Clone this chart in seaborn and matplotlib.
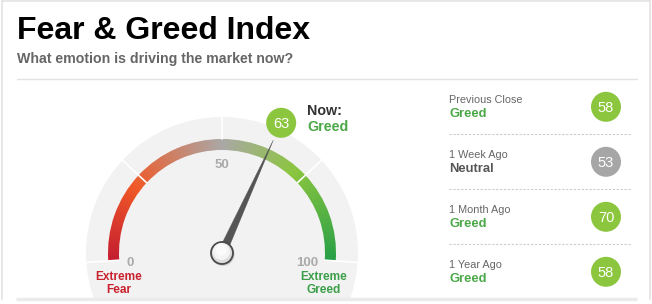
import numpy as np
import matplotlib
matplotlib.use("Agg")
import matplotlib.pyplot as plt
from matplotlib.patches import Wedge, Circle, Polygon
from matplotlib.colors import LinearSegmentedColormap
import seaborn as sns
import pandas as pd

# ---------------- data ----------------
title = "Fear & Greed Index"
subtitle = "What emotion is driving the market now?"
current_value = 63
current_rating = "Greed"
scale_ticks = [0, 50, 100]
zone_bounds = [0, 25, 50, 75, 100]
extreme_left = ["Extreme", "Fear"]
extreme_right = ["Extreme", "Greed"]
history_labels = ["Previous Close", "1 Week Ago", "1 Month Ago", "1 Year Ago"]
history_values = [58, 53, 70, 58]
history_ratings = ["Greed", "Neutral", "Greed", "Greed"]

# ---------------- style ----------------
W, H = 652, 304
sns.set_theme(style="white")
plt.rcParams['font.family'] = ['Liberation Sans', 'DejaVu Sans']

GREEN_BADGE = "#8cc63f"
GRAY_BADGE = "#a6a6a6"
GREEN_TXT = "#4da849"
RED_TXT = "#c9222f"
rating_color = {"Greed": GREEN_TXT, "Neutral": "#555555", "Fear": "#e0502a"}
badge_color = {"Greed": GREEN_BADGE, "Neutral": GRAY_BADGE, "Fear": "#f05a28"}

fig = plt.figure(figsize=(W / 100, H / 100), dpi=100)
ax = fig.add_axes([0, 0, 1, 1])
ax.set_xlim(0, W)
ax.set_ylim(H, 0)
ax.axis("off")

# frame
ax.plot([2, 2], [0, H], color="#e3e3e3", lw=1.2, zorder=1)
ax.plot([2, 650], [1, 1], color="#e3e3e3", lw=1.2, zorder=1)
ax.plot([650, 650], [0, H], color="#e3e3e3", lw=1.2, zorder=1)

# title
ax.text(17, 39, title, fontsize=23, fontweight="bold", color="#000000", va="baseline", ha="left")
ax.text(17, 63.5, subtitle, fontsize=10.2, fontweight="bold", color="#666666", va="baseline", ha="left")
ax.plot([17, 637], [79, 79], color="#e2e2e2", lw=1, zorder=1)

# ---------------- gauge ----------------
cx, cy = 222, 253
R_BG = 136
R_OUT, ARC_W = 114, 11


def ang(v):
    return 184.0 - v * 1.88


def pol(r, v):
    a = np.deg2rad(ang(v))
    return cx + r * np.cos(a), cy - r * np.sin(a)


bg = Circle((cx, cy), R_BG, facecolor="#f2f2f2", edgecolor="none", zorder=2)
ax.add_patch(bg)
ax.fill_between([0, W], 299.5, H, color="white", zorder=3)
ax.plot([16, 637], [299, 299], color="#ebebeb", lw=2.5, zorder=4, solid_capstyle="butt")

cmap = LinearSegmentedColormap.from_list(
    "fg",
    [(0.0, "#c41e30"), (0.22, "#f05a28"), (0.50, "#aaa8a6"), (0.72, "#8cc63f"), (1.0, "#28a048")],
)
# angular gradient image clipped to the arc
x0, x1 = cx - R_OUT - 2, cx + R_OUT + 2
y0, y1 = cy - R_OUT - 2, cy + 16
xs = np.linspace(x0, x1, 600)
ys = np.linspace(y0, y1, 400)
XX, YY = np.meshgrid(xs, ys)
phi = np.degrees(np.arctan2(cy - YY, XX - cx))
phi = np.where(phi < -90, phi + 360, phi)
vv = np.clip((184.0 - phi) / 1.88, 0, 100) / 100.0
img = cmap(vv)
im = ax.imshow(img, extent=(x0, x1, y1, y0), origin="upper", interpolation="bilinear", zorder=5)
arc = Wedge((cx, cy), R_OUT, -ang(0), -ang(100), width=ARC_W,
            facecolor="none", edgecolor="none", transform=ax.transData)
ax.add_patch(arc)
im.set_clip_path(arc)
ax.set_xlim(0, W)
ax.set_ylim(H, 0)

for b in zone_bounds:
    r0 = R_OUT - ARC_W if b not in (50,) else R_OUT
    xa, ya = pol(r0, b)
    xb, yb = pol(R_BG + 1, b)
    ax.plot([xa, xb], [ya, yb], color="white", lw=1.2, zorder=6)

# tick labels
for t in scale_ticks:
    if t == 50:
        x, y = 222, 168.5
    elif t == 0:
        x, y = 130, 266
    else:
        x, y = 307, 266
    ax.text(x, y, str(t), fontsize=9.5, fontweight="bold", color="#aaaaaa",
            ha="center", va="baseline", zorder=7)

ax.text(119, 280.5, extreme_left[0], fontsize=8.6, fontweight="bold", color=RED_TXT, ha="center", va="baseline", zorder=7)
ax.text(119, 293.3, extreme_left[1], fontsize=8.6, fontweight="bold", color=RED_TXT, ha="center", va="baseline", zorder=7)
ax.text(324, 280.5, extreme_right[0], fontsize=8.6, fontweight="bold", color="#3c9f4a", ha="center", va="baseline", zorder=7)
ax.text(324, 293.3, extreme_right[1], fontsize=8.6, fontweight="bold", color="#3c9f4a", ha="center", va="baseline", zorder=7)

# needle
a = np.deg2rad(ang(current_value))
tip = pol(124, current_value)
px, py = -np.sin(a), -np.cos(a)  # perpendicular (y-down coords)
base_half = 4.2
needle = Polygon([(cx + px * base_half, cy + py * base_half), tip,
                  (cx - px * base_half, cy - py * base_half)],
                 closed=True, facecolor="#555555", edgecolor="#555555", lw=0.3, zorder=8)
ax.add_patch(needle)

# pivot
ax.add_patch(Circle((cx + 0.8, cy + 1.2), 11.8, facecolor="#bbbbbb", edgecolor="none", alpha=0.6, zorder=9))
ax.add_patch(Circle((cx, cy), 11, facecolor="#dddddd", edgecolor="#4a4a4a", lw=1.3, zorder=10))
ax.add_patch(Circle((cx - 0.5, cy - 1.5), 8.5, facecolor="#f4f4f4", edgecolor="none", zorder=11))
ax.add_patch(Circle((cx - 1, cy - 3), 5.5, facecolor="#fbfbfb", edgecolor="none", zorder=12))

# current badge
bx, by = pol(143, current_value)
ax.add_patch(Circle((bx, by), 15, facecolor=badge_color[current_rating], edgecolor="none", zorder=9))
ax.text(bx, by + 5, str(current_value), fontsize=10.5, color="white", ha="center", va="baseline", zorder=10)
ax.text(307, 115, "Now:", fontsize=10.3, fontweight="bold", color="#333333", ha="left", va="baseline", zorder=10)
ax.text(307, 130.7, current_rating, fontsize=10.3, fontweight="bold", color=GREEN_TXT, ha="left", va="baseline", zorder=10)

# ---------------- history panel ----------------
row_step = 55
df = pd.DataFrame({
    "label": history_labels,
    "value": history_values,
    "rating": history_ratings,
})
df["x"] = 606.0
df["y"] = [106.8 + i * row_step for i in range(len(df))]
sns.scatterplot(data=df, x="x", y="y", hue="rating",
                palette={k: badge_color[k] for k in df["rating"].unique()},
                s=466, linewidth=0, legend=False, ax=ax, zorder=9)
ax.set_xlim(0, W)
ax.set_ylim(H, 0)
ax.axis("off")

for i, row in df.iterrows():
    ax.text(449, 102.6 + i * row_step, row["label"], fontsize=7.8, color="#666666",
            ha="left", va="baseline", zorder=10)
    ax.text(449, 117.4 + i * row_step, row["rating"], fontsize=9.4, fontweight="bold",
            color=rating_color[row["rating"]], ha="left", va="baseline", zorder=10)
    ax.text(row["x"], row["y"] + 4.8, str(row["value"]), fontsize=10.5, color="white",
            ha="center", va="baseline", zorder=10)
    if i < len(df) - 1:
        yy = 134 + i * row_step
        ax.plot([449, 631], [yy, yy], color="#cccccc", lw=0.8, ls=(0, (2, 1.5)), zorder=3)

fig.savefig("out.png", dpi=100)
